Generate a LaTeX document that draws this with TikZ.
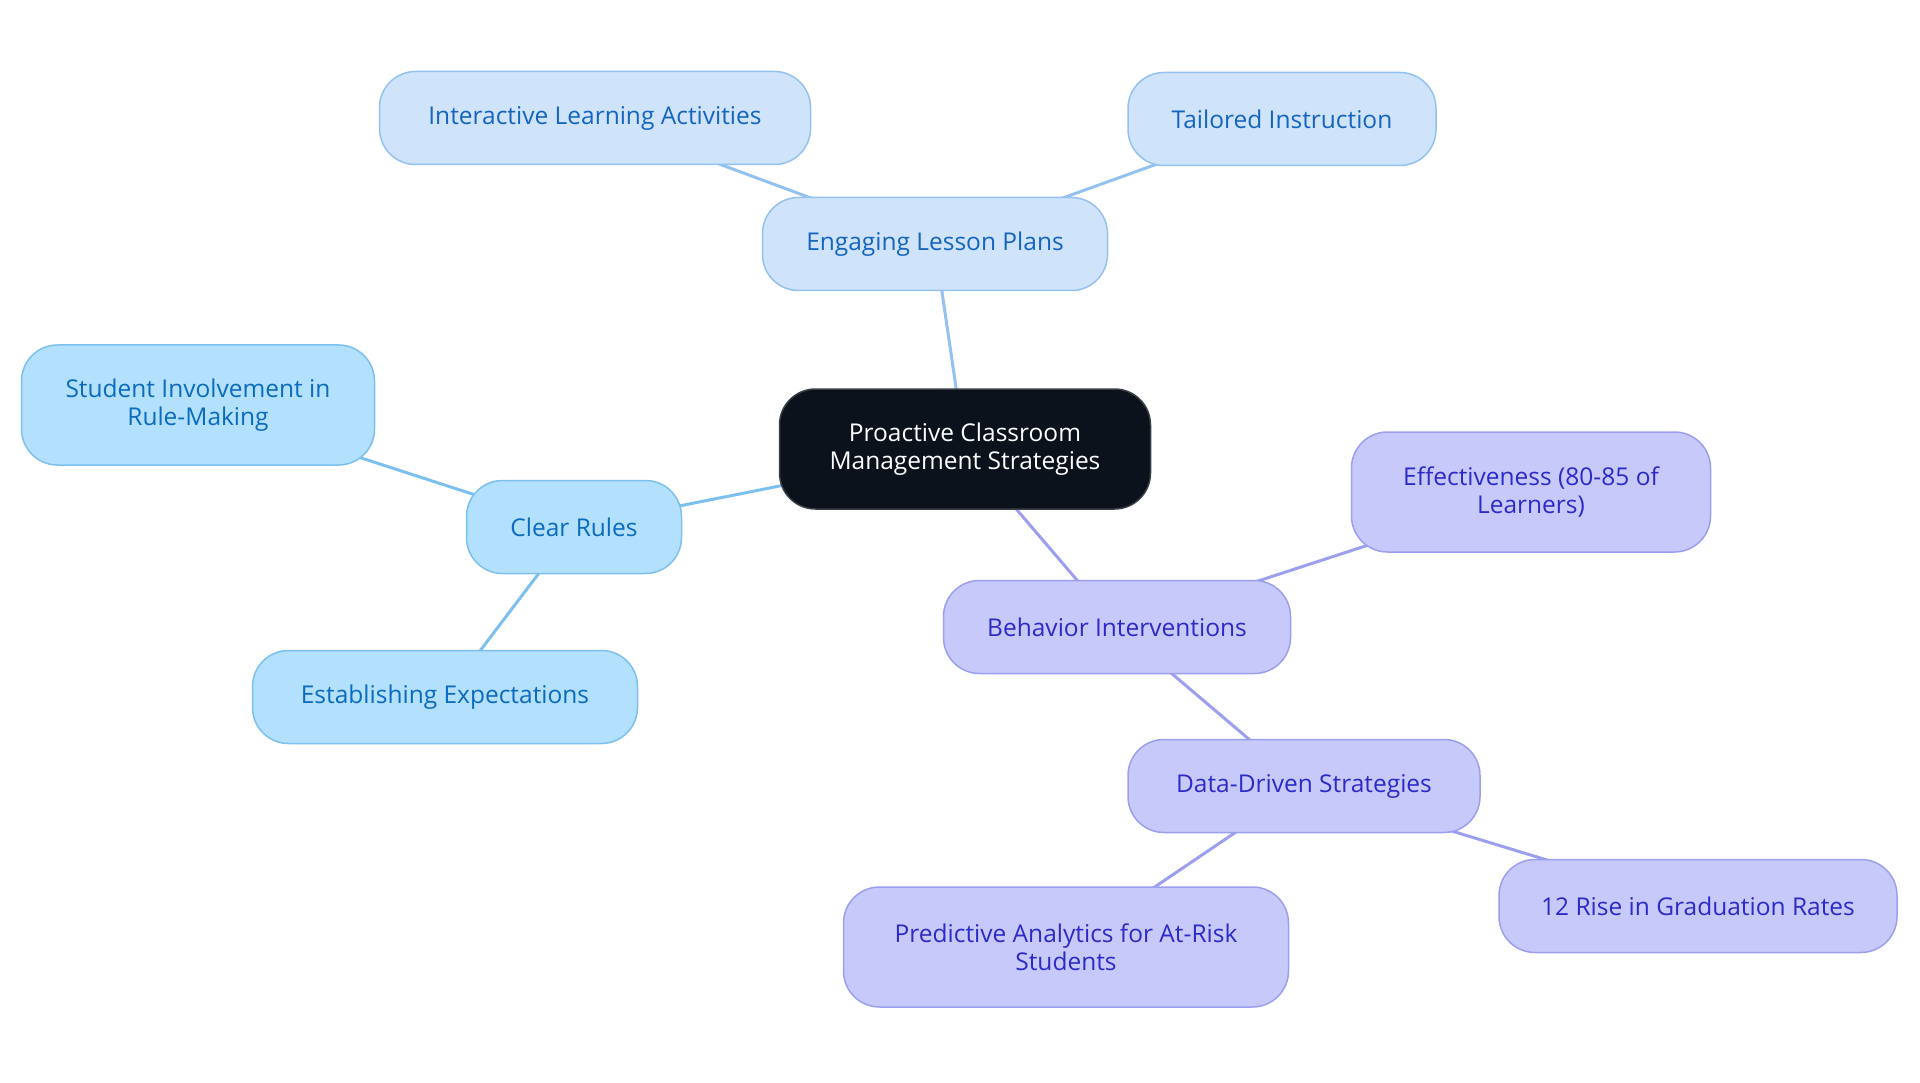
\documentclass[tikz,border=0pt]{standalone}
\usepackage{fontspec}
\setmainfont{Open Sans}
\usetikzlibrary{backgrounds}
\definecolor{cfill}{HTML}{0C121B}
\definecolor{cdraw}{HTML}{3A3F46}
\definecolor{afill}{HTML}{B3E0FD}
\definecolor{adraw}{HTML}{7CC0F0}
\definecolor{atext}{HTML}{0B6BBF}
\definecolor{bfill}{HTML}{CFE3FB}
\definecolor{bdraw}{HTML}{94C2F0}
\definecolor{btext}{HTML}{1565C0}
\definecolor{pfill}{HTML}{C8C9FB}
\definecolor{pdraw}{HTML}{9C9FF0}
\definecolor{ptext}{HTML}{2B2BC8}
\tikzset{
  x=1pt,y=-1pt,
  box/.style={rounded corners=36pt, line width=1.5pt, align=center, inner sep=0pt,
     font=\fontsize{24.5}{28}\selectfont},
  center/.style={box, fill=cfill, draw=cdraw, text=white},
  abox/.style={box, fill=afill, draw=adraw, text=atext},
  bbox/.style={box, fill=bfill, draw=bdraw, text=btext},
  pbox/.style={box, fill=pfill, draw=pdraw, text=ptext},
  aline/.style={draw=adraw, line width=3pt},
  bline/.style={draw=bdraw, line width=3pt},
  pline/.style={draw=pdraw, line width=3pt},
}
\begin{document}
\begin{tikzpicture}
\useasboundingbox (0,0) rectangle (1920,1083);
\node[center, minimum width=371pt, minimum height=120pt] (root) at (965,449) {Proactive Classroom\\Management Strategies};
\node[bbox, minimum width=345pt, minimum height=93pt] (elp) at (935,244) {Engaging Lesson Plans};
\node[bbox, minimum width=431pt, minimum height=93pt] (ila) at (595,118) {Interactive Learning Activities};
\node[bbox, minimum width=308pt, minimum height=93pt] (ti) at (1282,119) {Tailored Instruction};
\node[abox, minimum width=215pt, minimum height=93pt] (cr) at (574,527) {Clear Rules};
\node[abox, minimum width=353pt, minimum height=120pt] (si) at (198,405) {Student Involvement in\\Rule-Making};
\node[abox, minimum width=385pt, minimum height=93pt] (ee) at (445,697) {Establishing Expectations};
\node[pbox, minimum width=347pt, minimum height=93pt] (bi) at (1117,627) {Behavior Interventions};
\node[pbox, minimum width=359pt, minimum height=120pt] (ef) at (1531,492) {Effectiveness (80-85 of\\Learners)};
\node[pbox, minimum width=352pt, minimum height=93pt] (dd) at (1304,786) {Data-Driven Strategies};
\node[pbox, minimum width=445pt, minimum height=120pt] (pa) at (1066,947) {Predictive Analytics for At-Risk\\Students};
\node[pbox, minimum width=398pt, minimum height=93pt] (gr) at (1698,906) {12 Rise in Graduation Rates};
\begin{scope}[on background layer]
\draw[bline] (root.center) -- (elp.center);
\draw[bline] (elp.center) -- (ila.center);
\draw[bline] (elp.center) -- (ti.center);
\draw[aline] (root.center) -- (cr.center);
\draw[aline] (cr.center) -- (si.center);
\draw[aline] (cr.center) -- (ee.center);
\draw[pline] (root.center) -- (bi.center);
\draw[pline] (bi.center) -- (ef.center);
\draw[pline] (bi.center) -- (dd.center);
\draw[pline] (dd.center) -- (pa.center);
\draw[pline] (dd.center) -- (gr.center);
\end{scope}
\end{tikzpicture}
\end{document}
